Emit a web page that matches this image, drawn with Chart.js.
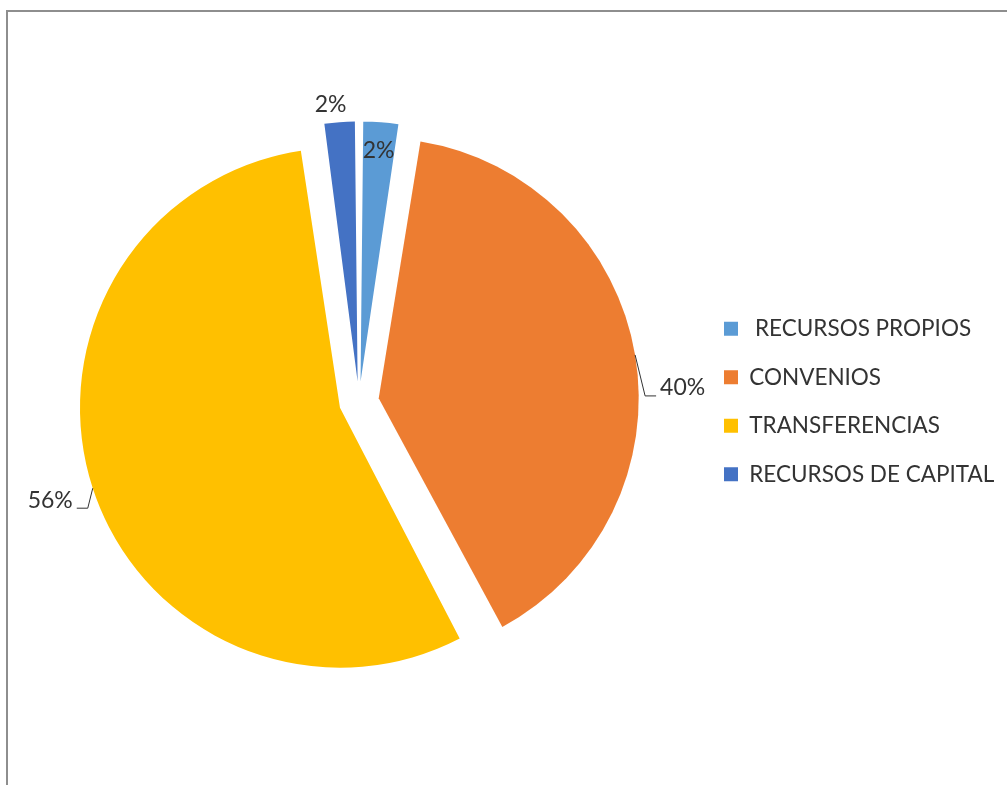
<!DOCTYPE html>
<html>
<head>
<meta charset="utf-8">
<script src="https://cdn.jsdelivr.net/npm/chart.js@4.4.1/dist/chart.umd.min.js"></script>
<style>
  html, body { margin: 0; padding: 0; background: #fff; }
  #marco { position: absolute; left: 6px; top: 10px; right: 0; bottom: 0; border-left: 2px solid #8e8e8e; border-top: 2px solid #8e8e8e; }
  #grafico { position: absolute; left: 0; top: 0; }
</style>
</head>
<body>
<div id="marco"></div>
<canvas id="grafico" width="1007" height="785"></canvas>
<script>
const categorias = [' RECURSOS PROPIOS', 'CONVENIOS', 'TRANSFERENCIAS', 'RECURSOS DE CAPITAL'];
const valores = [2.49, 39.7, 55.6, 2.21];
const colores = ['#5B9BD5', '#ED7D31', '#FFC000', '#4472C4'];

const separacion = 20;   // cuanto se separa cada porcion
const radio = 260;
const fuente = 'Lato, "Liberation Sans", sans-serif';
const colorTexto = '#333333';
const tamLeyenda = 22.5;

// posicion de cada porcentaje respecto al borde de su porcion
const etiquetas = [
  { dentro: 0.89 },
  { dx: 25, dy: 33, lado: 'der' },
  { dx: -20, dy: 12, lado: 'izq' },
  { dx: -9, dy: -18 }
];

// la leyenda empieza en x=698; el ancho depende del texto mas largo
const medidor = document.createElement('canvas').getContext('2d');
medidor.font = tamLeyenda + 'px ' + fuente;
const anchoTexto = Math.max(...categorias.map(c => medidor.measureText(c).width));
const anchoLeyenda = 26 + 14 + tamLeyenda / 2 + anchoTexto + 10;
const padDerecha = Math.max(0, 1007 - 698 - anchoLeyenda);

// chart.js agranda el radio de las porciones desplazadas; se compensa aqui
const compensarRadio = {
  id: 'compensarRadio',
  afterUpdate(chart) {
    chart.getDatasetMeta(0).data.forEach(arc => {
      const fix = 1 - Math.sin(Math.min(Math.PI, arc.circumference));
      arc.outerRadius = radio - separacion * fix;
    });
  }
};

const porcentajes = {
  id: 'porcentajes',
  afterDatasetsDraw(chart) {
    const ctx = chart.ctx;
    const total = valores.reduce((a, b) => a + b, 0);
    ctx.save();
    ctx.font = '23px ' + fuente;
    ctx.fillStyle = colorTexto;
    ctx.strokeStyle = colorTexto;
    ctx.lineWidth = 1;
    ctx.textBaseline = 'middle';
    chart.getDatasetMeta(0).data.forEach((arc, i) => {
      const medio = (arc.startAngle + arc.endAngle) / 2;
      const cx = arc.x + Math.cos(medio) * separacion;
      const cy = arc.y + Math.sin(medio) * separacion;
      const texto = Math.round(valores[i] / total * 100) + '%';
      const e = etiquetas[i];
      if (e.dentro) {
        ctx.textAlign = 'center';
        ctx.fillText(texto, cx + Math.cos(medio) * radio * e.dentro, cy + Math.sin(medio) * radio * e.dentro);
        return;
      }
      const bx = cx + Math.cos(medio) * radio;
      const by = cy + Math.sin(medio) * radio;
      const tx = bx + e.dx;
      const ty = by + e.dy;
      if (e.lado) {
        const s = e.lado === 'der' ? -1 : 1;
        ctx.beginPath();
        ctx.moveTo(bx, by);
        ctx.lineTo(tx + s * 15, ty + 8);
        ctx.lineTo(tx + s * 4, ty + 8);
        ctx.stroke();
        ctx.textAlign = e.lado === 'der' ? 'left' : 'right';
      } else {
        ctx.textAlign = 'center';
      }
      ctx.fillText(texto, tx, ty);
    });
    ctx.restore();
  }
};

new Chart(document.getElementById('grafico'), {
  type: 'pie',
  data: {
    labels: categorias,
    datasets: [{
      data: valores,
      backgroundColor: colores,
      borderWidth: 0,
      offset: separacion * 4
    }]
  },
  options: {
    responsive: false,
    animation: false,
    radius: radio,
    layout: { padding: { left: 20, top: 18, right: padDerecha, bottom: 0 } },
    plugins: {
      legend: {
        position: 'right',
        labels: {
          boxWidth: 14,
          boxHeight: 14,
          padding: 26,
          color: colorTexto,
          font: { family: fuente, size: tamLeyenda }
        }
      },
      tooltip: { enabled: false }
    }
  },
  plugins: [compensarRadio, porcentajes]
});
</script>
</body>
</html>
